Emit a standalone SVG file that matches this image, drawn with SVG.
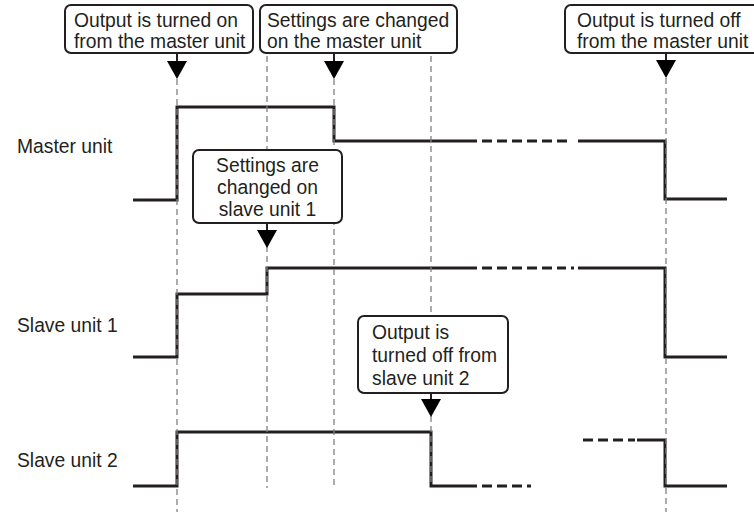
<svg xmlns="http://www.w3.org/2000/svg" width="754" height="512" viewBox="0 0 754 512">
<style>
  text { font-family: "Liberation Sans", Arial, sans-serif; font-size: 19.3px; fill: #231f20; }
  .sig { fill: none; stroke: #231f20; stroke-width: 3; stroke-linejoin: miter; }
  .sigd { fill: none; stroke: #231f20; stroke-width: 3; stroke-dasharray: 10 5; }
  .guide { fill: none; stroke: #808080; stroke-width: 1.3; stroke-dasharray: 6 4; }
  .box { fill: #ffffff; stroke: #231f20; stroke-width: 2; }
  .stem { stroke: #231f20; stroke-width: 2; }
  .tri { fill: #000000; }
</style>
<rect width="754" height="512" fill="#ffffff"/>

<g id="signals">
  <g id="master-signal">
    <path class="sig" d="M133 200 H177 V107 H334 V141 H477"/>
    <path class="sigd" d="M482 141 H568"/>
    <path class="sig" d="M578 141 H665 V199 H727"/>
  </g>
  <g id="slave1-signal">
    <path class="sig" d="M133 357 H177 V294 H267 V268 H477"/>
    <path class="sigd" d="M482 268 H566"/>
    <path class="sig" d="M571 268 H574"/>
    <path class="sig" d="M578 268 H665 V357 H727"/>
  </g>
  <g id="slave2-signal">
    <path class="sig" d="M133 486 H177 V432 H431 V486 H477"/>
    <path class="sigd" d="M482 486 H531"/>
    <path class="sigd" d="M583 440 H635" stroke-dasharray="5 5 12 4 12 4 12 4"/>
    <path class="sig" d="M637 440 H665 V486 H727"/>
  </g>
</g>

<g id="connectors">
  <line class="guide" x1="177" y1="79" x2="177" y2="512"/>
  <line class="guide" x1="267" y1="56" x2="267" y2="488"/>
  <line class="guide" x1="334" y1="79" x2="334" y2="488"/>
  <line class="guide" x1="431" y1="56" x2="431" y2="486"/>
  <line class="guide" x1="666" y1="78" x2="666" y2="512"/>
</g>

<g id="labels">
  <text x="17" y="153">Master unit</text>
  <text x="17" y="332">Slave unit 1</text>
  <text x="17" y="467">Slave unit 2</text>
</g>

<g id="note-on-master">
  <rect class="box" x="65" y="5" width="188" height="48" rx="6"/>
  <text x="74" y="27">Output is turned on</text>
  <text x="74" y="48">from the master unit</text>
  <line class="stem" x1="177" y1="53" x2="177" y2="62"/>
  <polygon class="tri" points="167,61 187,61 177,79"/>
</g>

<g id="note-settings-master">
  <rect class="box" x="260" y="5" width="197" height="48" rx="6"/>
  <text x="267" y="27">Settings are changed</text>
  <text x="267" y="48">on the master unit</text>
  <line class="stem" x1="334" y1="53" x2="334" y2="62"/>
  <polygon class="tri" points="324,61 344,61 334,79"/>
</g>

<g id="note-off-master">
  <rect class="box" x="565" y="5" width="200" height="48" rx="6"/>
  <text x="577" y="27">Output is turned off</text>
  <text x="577" y="48">from the master unit</text>
  <line class="stem" x1="666" y1="53" x2="666" y2="61"/>
  <polygon class="tri" points="656,60 676,60 666,78"/>
</g>

<g id="note-settings-slave1">
  <rect class="box" x="193" y="150" width="149" height="73" rx="6"/>
  <text x="267.5" y="172" text-anchor="middle">Settings are</text>
  <text x="267.5" y="194" text-anchor="middle">changed on</text>
  <text x="267.5" y="216" text-anchor="middle">slave unit 1</text>
  <line class="stem" x1="267" y1="223" x2="267" y2="231"/>
  <polygon class="tri" points="257,230 277,230 267,248"/>
</g>

<g id="note-off-slave2">
  <rect class="box" x="358" y="316" width="150" height="77" rx="6"/>
  <text x="372" y="339">Output is</text>
  <text x="372" y="362">turned off from</text>
  <text x="372" y="385">slave unit 2</text>
  <line class="stem" x1="431" y1="393" x2="431" y2="400"/>
  <polygon class="tri" points="421,399 441,399 431,417"/>
</g>
</svg>
